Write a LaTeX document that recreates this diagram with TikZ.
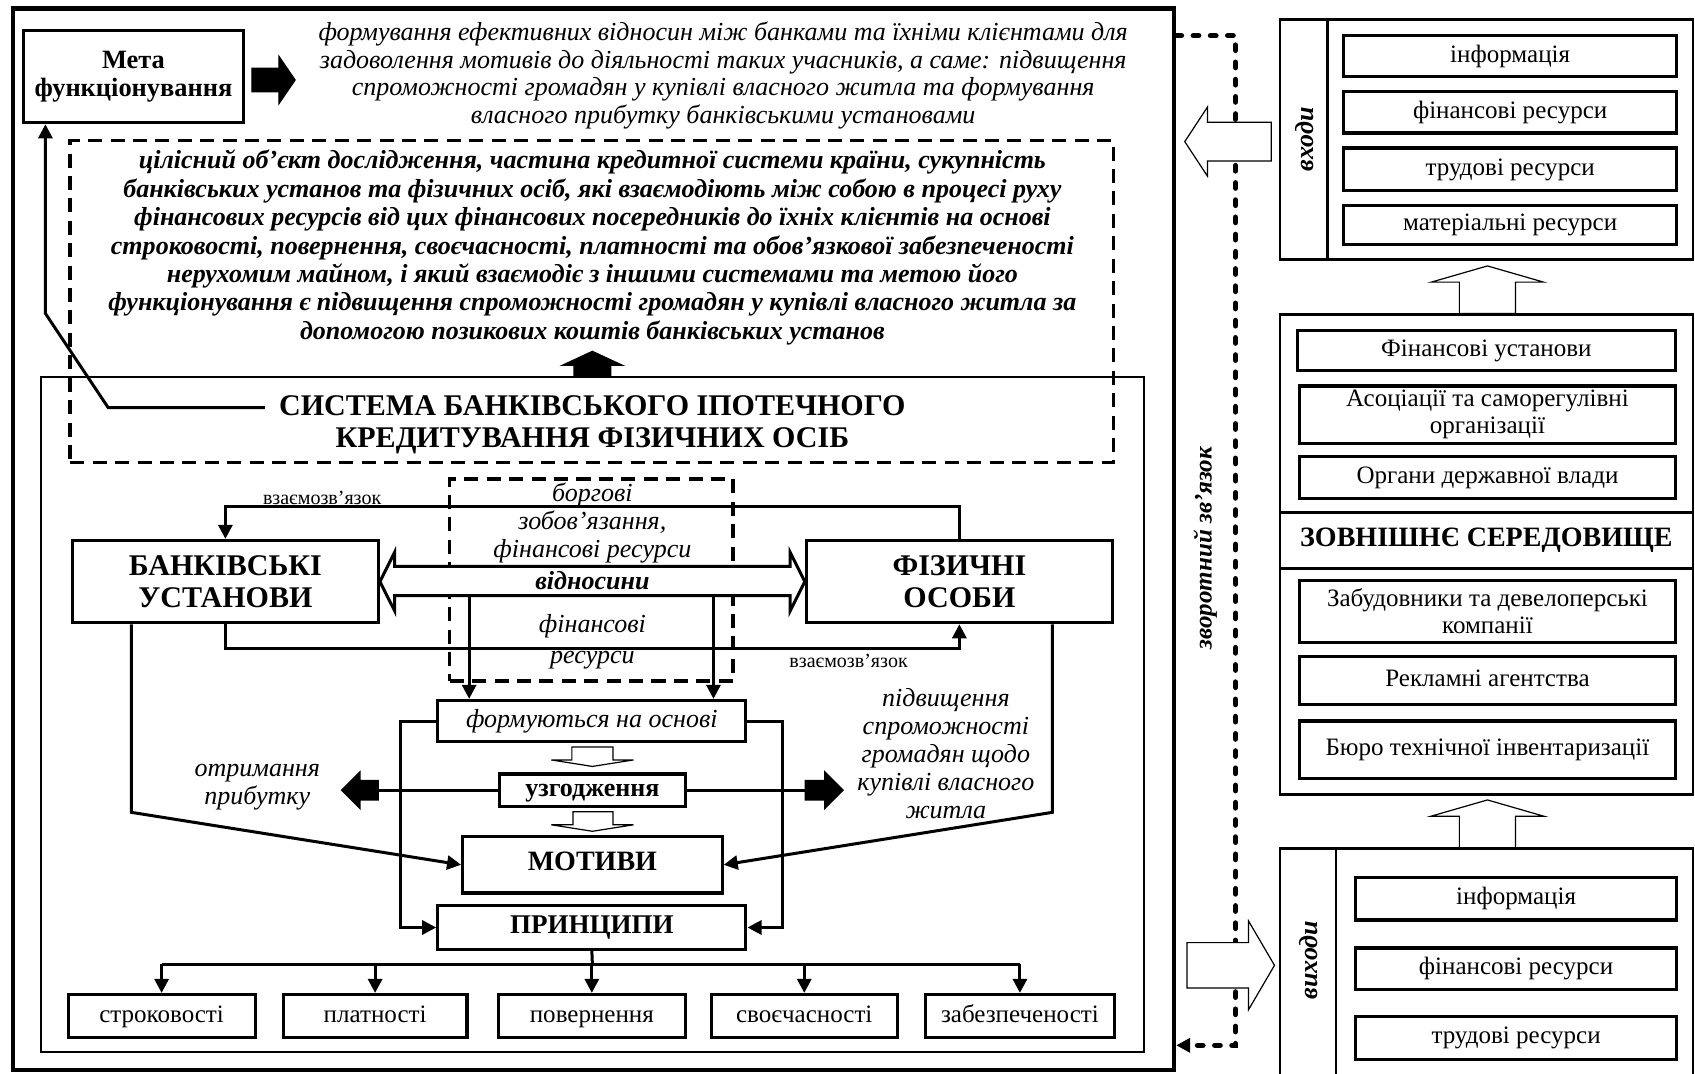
\documentclass[tikz,border=0pt]{standalone}
\usepackage{fontspec}
\setmainfont{Liberation Serif}
\usetikzlibrary{arrows.meta,fit}

\tikzset{
  box/.style={draw, line width=1.6pt, inner sep=0pt, align=center},
  boxsize/.style 2 args={minimum width=#1*0.54pt, minimum height=#2*0.54pt},
  oneline/.style={text height=1.65ex, text depth=0.35ex},
  panel/.style={draw, line width=1.3pt, inner sep=0pt},
  dashbox/.style={draw, line width=1.8pt, dash pattern=on 7pt off 4.2pt, inner sep=0pt},
  conn/.style={line width=1.5pt},
  fb/.style={line width=2.8pt, line cap=round, dash pattern=on 2.6pt off 6pt},
  blockarrow/.style={fill=black, draw=black, line width=0.6pt},
  hollow/.style={fill=white, draw=black, line width=0.6pt},
  note/.style={align=center, font=\fontsize{13}{14}\selectfont\itshape},
  small/.style={font=\fontsize{10}{12}\selectfont},
  item2/.style={box, font=\fontsize{12.5}{13.5}\selectfont},
  item/.style={item2, oneline},
  sidelabel/.style={rotate=90, font=\fontsize{13}{14}\selectfont\bfseries\itshape},
}

\begin{document}
\begin{tikzpicture}[x=0.54pt, y=-0.54pt, >={Triangle[length=7pt,width=7pt]}]
      \useasboundingbox (0,0) rectangle (1568,993);
      % frame
      \node[panel, line width=2.2pt, fit={(12,8) (1086,990)}] (frame) {};
      % goal
      \node[box, boxsize={203}{85}, font=\fontsize{13.2}{14}\selectfont\bfseries] (meta) at (123.5,71) {Мета\\функціонування};
      \draw[blockarrow] (233,63) -- (258,63) -- (258,52) -- (273,74) -- (258,96) -- (258,85) -- (233,85) -- cycle;
      \node[note, font=\fontsize{13}{13.8}\selectfont\itshape] (goal) at (669,70) {формування ефективних відносин між банками та їхніми клієнтами для\\задоволення мотивів до діяльності  таких учасників, а саме: підвищення\\спроможності громадян у купівлі  власного житла та формування\\власного прибутку банківськими установами};
      % object
      \node[dashbox, fit={(65,130) (1030,428)}] (obj) {};
      \node[align=center, font=\fontsize{13}{14.2}\selectfont\bfseries\itshape] (objtext) at (548,229) {цілісний об’єкт дослідження, частина кредитної системи країни, сукупність\\банківських установ та фізичних осіб, які взаємодіють між собою в процесі руху\\фінансових ресурсів від цих фінансових  посередників до їхніх клієнтів на основі\\строковості, повернення, своєчасності, платності та обов’язкової забезпеченості\\нерухомим майном, і який взаємодіє з іншими системами та метою його\\функціонування є підвищення спроможності громадян у купівлі  власного житла за\\допомогою позикових коштів банківських установ};
      % system
      \node[panel, line width=1.2pt, fit={(38,349) (1058,973)}] (sys) {};
      \draw[blockarrow] (531,349) -- (531,338) -- (520,338) -- (548,325) -- (576,338) -- (565,338) -- (565,349) -- cycle;
      \node[align=center, font=\fontsize{15}{16.2}\selectfont\bfseries] (title) at (548,393) {СИСТЕМА БАНКІВСЬКОГО ІПОТЕЧНОГО\\КРЕДИТУВАННЯ ФІЗИЧНИХ ОСІБ};
      \coordinate (tl) at (245,377);
      \draw[conn,->] (tl) -- (100,377) -- (42,290) -- (42,0 |- meta.south);
      % participants
      \node[box, boxsize={283}{76}, font=\fontsize{15}{16.2}\selectfont\bfseries] (bank) at (208.5,538) {БАНКІВСЬКІ\\УСТАНОВИ};
      \node[box, boxsize={283}{76}, font=\fontsize{15}{16.2}\selectfont\bfseries] (fiz) at (887.5,538) {ФІЗИЧНІ\\ОСОБИ};
      \node[dashbox, fit={(416,443) (678,630)}] (flow) {};
      \draw[conn,->] (fiz.north) -- ++(0,-30) -| (bank.north);
      \draw[conn,->] (bank.south) -- ++(0,22) -| (fiz.south);
      \node[small] (link1) at (298,461) {взаємозв’язок};
      \node[small] (link2) at (785,611) {взаємозв’язок};
      \draw[conn, fill=white] (bank.east) -- (365,511) -- (365,524) -- (731,524) -- (731,511) -- (fiz.west) -- (731,565) -- (731,551) -- (365,551) -- (365,565) -- cycle;
      \node[note] (debt) at (548,484) {боргові\\зобов’язання,\\фінансові ресурси};
      \node[note, font=\fontsize{13}{14}\selectfont\bfseries\itshape] (rel) at (548,537) {відносини};
      \node[note] (fin1) at (548,579) {фінансові};
      \node[note] (fin2) at (548,611) {ресурси};
      % motives
      \node[box, oneline, boxsize={285}{38}, font=\fontsize{13}{14}\selectfont\itshape] (form) at (547.5,667) {формуються на основі};
      \coordinate (r1) at (434,551);
      \coordinate (r2) at (660,551);
      \draw[conn,->] (r1) -- (r1 |- form.north);
      \draw[conn,->] (r2) -- (r2 |- form.north);
      \draw[hollow] (529,691) -- (567,691) -- (567,703) -- (586,703) -- (548,709) -- (510,703) -- (529,703) -- cycle;
      \node[box, oneline, boxsize={172}{30}, font=\fontsize{13}{14}\selectfont\bfseries] (agree) at (548,731) {узгодження};
      \draw[hollow] (530,751) -- (567,751) -- (567,763) -- (586,763) -- (548,769) -- (510,763) -- (530,763) -- cycle;
      \node[box, oneline, boxsize={240}{52}, font=\fontsize{14}{15}\selectfont\bfseries] (motiv) at (548,800) {МОТИВИ};
      \node[box, oneline, boxsize={285}{40}, font=\fontsize{13.5}{15}\selectfont\bfseries] (princ) at (547.5,858) {ПРИНЦИПИ};
      \draw[conn,->] (form.west) -- ++(-33,0) |- (princ.west);
      \draw[conn,->] (form.east) -- ++(32,0) |- (princ.east);
      \draw[conn] (agree.west) -- ++(-112,0);
      \draw[blockarrow] (350,722) -- (333,722) -- (333,714) -- (316,731) -- (333,748) -- (333,740) -- (350,740) -- cycle;
      \draw[conn] (agree.east) -- ++(111,0);
      \draw[blockarrow] (745,722) -- (763,722) -- (763,714) -- (780,731) -- (763,748) -- (763,740) -- (745,740) -- cycle;
      \node[note] (profit) at (238,728) {отримання\\прибутку};
      \node[note] (afford) at (875,697) {підвищення\\спроможності\\громадян щодо\\купівлі  власного\\житла};
      \draw[conn,->] (bank.south west) ++(56,0) -- ++(0,174) -- (motiv.west);
      \draw[conn,->] (fiz.south east) ++(-57,0) -- ++(0,174) -- (motiv.east);
      % principles
      \coordinate (bar) at (548,892);
      \node[item, boxsize={173}{40}] (p1) at (149.5,940) {строковості};
      \node[item, boxsize={170}{40}] (p2) at (347,940) {платності};
      \node[item, boxsize={173}{40}] (p3) at (547.5,940) {повернення};
      \node[item, boxsize={172}{40}] (p4) at (744,940) {своєчасності};
      \node[item, boxsize={175}{40}] (p5) at (943.5,940) {забезпеченості};
      \draw[conn] (princ.south) -- (bar);
      \draw[conn] (p1 |- bar) -- (p5 |- bar);
      \draw[conn,->] (p1 |- bar) -- (p1.north);
      \draw[conn,->] (p2 |- bar) -- (p2.north);
      \draw[conn,->] (p3 |- bar) -- (p3.north);
      \draw[conn,->] (p4 |- bar) -- (p4.north);
      \draw[conn,->] (p5 |- bar) -- (p5.north);
      % feedback
      \draw[fb,->] (frame.east |- 0,33) -- (1143,33) -- (1143,967) -- (frame.east |- 0,967);
      \node[rotate=90, font=\fontsize{12.5}{14}\selectfont\bfseries\itshape] (fblab) at (1115,507) {зворотний зв’язок};
      % inputs
      \node[panel, fit={(1184,18) (1566,240)}] (inbox) {};
      \draw[panel] (inbox.north west) ++(45,0) -- ++(0,222);
      \node[sidelabel] (inlab) at (1207,129) {входи};
      \node[item, boxsize={308}{38}] (in1) at (1397,52) {інформація};
      \node[item, boxsize={308}{38}] (in2) at (1397,104) {фінансові ресурси};
      \node[item, boxsize={308}{39}] (in3) at (1397,156.5) {трудові ресурси};
      \node[item, boxsize={308}{36}] (in4) at (1397,208) {матеріальні ресурси};
      \draw[hollow] (1176,113) -- (1176,149) -- (1117,149) -- (1117,163) -- (1096,131) -- (1117,99) -- (1117,113) -- cycle;
      \draw[hollow] (1350,290) -- (1350,261) -- (1324,261) -- (1376,246) -- (1428,261) -- (1402,261) -- (1402,290) -- cycle;
      % environment
      \node[panel, fit={(1184,291) (1566,735)}] (env) {};
      \draw[panel] (env.west |- 0,474) -- (env.east |- 0,474);
      \draw[panel] (env.west |- 0,526) -- (env.east |- 0,526);
      \node[font=\fontsize{14}{15}\selectfont\bfseries] (envlab) at (1375,500) {ЗОВНІШНЄ СЕРЕДОВИЩЕ};
      \node[item, boxsize={350}{37}] (e1) at (1375,324.5) {Фінансові установи};
      \node[item2, boxsize={348}{53}] (e2) at (1376,383.5) {Асоціації та саморегулівні\\організації};
      \node[item, boxsize={348}{39}] (e3) at (1376,441.5) {Органи державної влади};
      \node[item2, boxsize={348}{57}] (e4) at (1376,565.5) {Забудовники та девелоперські\\компанії};
      \node[item, boxsize={348}{45}] (e5) at (1376,629.5) {Рекламні агентства};
      \node[item, boxsize={348}{53}] (e6) at (1376,693.5) {Бюро технічної інвентаризації};
      \draw[hollow] (1350,785) -- (1350,755) -- (1324,755) -- (1376,740) -- (1428,755) -- (1402,755) -- (1402,785) -- cycle;
      % outputs
      \node[panel, fit={(1184,785) (1566,1005)}] (outbox) {};
      \draw[panel] (outbox.north west) ++(53,0) -- ++(0,220);
      \node[sidelabel] (outlab) at (1211,888) {виходи};
      \node[item, boxsize={297}{39}] (out1) at (1402.5,831.5) {інформація};
      \node[item, boxsize={297}{38}] (out2) at (1402.5,896) {фінансові ресурси};
      \node[item, boxsize={297}{40}] (out3) at (1402.5,960) {трудові ресурси};
      \draw[hollow] (1098,872) -- (1155,872) -- (1155,852) -- (1179,893) -- (1155,934) -- (1155,914) -- (1098,914) -- cycle;
    \end{tikzpicture}
\end{document}
